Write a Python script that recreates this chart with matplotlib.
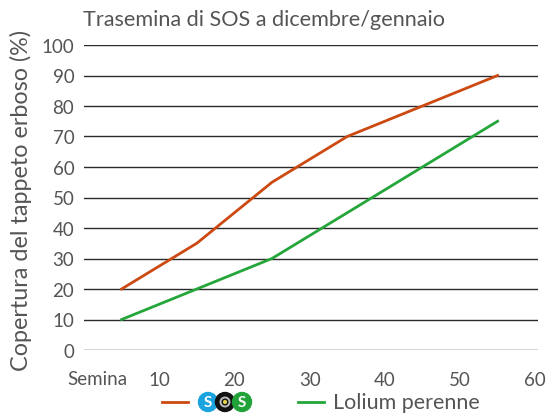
import matplotlib
matplotlib.use("Agg")
import matplotlib.pyplot as plt
from matplotlib.lines import Line2D
from matplotlib.patches import Circle

weeks = [5, 15, 25, 35, 45, 55]
sos = [20, 35, 55, 70, 80, 90]
lolium = [10, 20, 30, 45, 60, 75]
xticks = [10, 20, 30, 40, 50, 60]
yticks = list(range(0, 101, 10))
title = "Trasemina di SOS a dicembre/gennaio"
ylabel = "Copertura del tappeto erboso (%)"
lolium_label = "Lolium perenne"

RED = "#CC4A12"
GREEN = "#24A63A"
TXT = "#555555"

plt.rcParams['font.family'] = ['Lato', 'DejaVu Sans']

W, H = 547, 414
fig = plt.figure(figsize=(W/100, H/100), dpi=100)
x0, x1 = 84, 538
ax = fig.add_axes([x0/W, 1-351/H, (x1-x0)/W, (351-46)/H])
ax.set_xlim(0, (x1-x0)/7.52)
ax.set_ylim(0, 100)
for s in ax.spines.values():
    s.set_visible(False)
ax.set_yticks(yticks)
ax.set_xticks(xticks)
ax.tick_params(length=0, labelsize=13.5, labelcolor=TXT)
ax.tick_params(axis='y', pad=7)
ax.tick_params(axis='x', pad=15)
ax.grid(axis='y', color='#2a2a2a', linewidth=1.0)
ax.set_axisbelow(True)
ax.plot(weeks, sos, color=RED, linewidth=2)
ax.plot(weeks, lolium, color=GREEN, linewidth=2)
fig.text(97/W, 1-380/H, "Semina", ha='center', va='center', fontsize=13.5, color=TXT)
fig.text(21/W, 1-201/H, ylabel, rotation=90, ha='center', va='center', fontsize=16.8, color=TXT)
fig.text(83/W, 1-20/H, title, ha='left', va='center', fontsize=15.6, color=TXT)

# legend
ly = 1 - 403/H
fig.add_artist(Line2D([162/W, 188/W], [ly, ly], color=RED, linewidth=2))
fig.add_artist(Line2D([298/W, 324/W], [ly, ly], color=GREEN, linewidth=2))
fig.text(333/W, ly, lolium_label, ha='left', va='center', fontsize=15.5, color=TXT)
for cx, col, letter in [(208, '#1BA3E0', 'S'), (225, '#111111', 'O'), (242, '#22A33A', 'S')]:
    c = Circle((cx, 414-403), 9.5, color=col, transform=None)
    fig.add_artist(c)
    if letter == 'O':
        fig.add_artist(Circle((cx, 414-403), 5.5, facecolor='#BBBBBB', edgecolor='none', transform=None))
        fig.add_artist(Circle((cx, 414-403), 2.8, facecolor='#E5D44A', edgecolor='#111111', linewidth=1, transform=None))
    else:
        fig.text(cx/W, ly, letter, ha='center', va='center', fontsize=11, fontweight='bold', color='white')

fig.savefig("out.png", dpi=100)
